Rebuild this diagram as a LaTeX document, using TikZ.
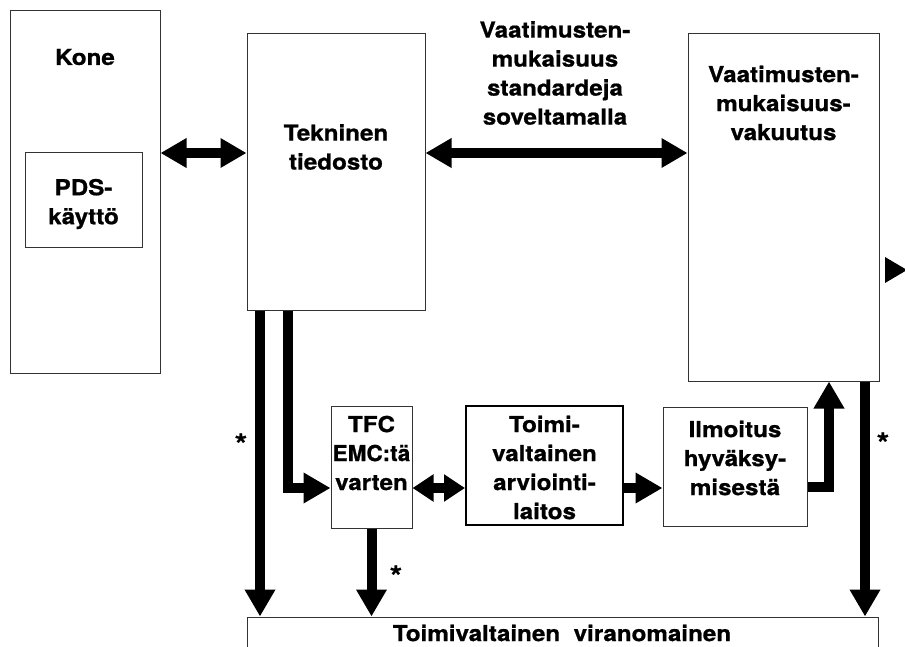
\documentclass[tikz,border=0pt]{standalone}
\usepackage{fontspec}
\setmainfont{TeX Gyre Heros}[FakeStretch=1.1, BoldFeatures={FakeBold=0.8}]
\usetikzlibrary{arrows.meta}
\tikzset{
  box/.style={draw=black!80, line width=1pt, fill=none, inner sep=0pt, anchor=center},
  txt/.style={inner sep=0pt, align=center, font=\fontsize{22}{29}\selectfont\bfseries},
  star/.style={inner sep=0pt, font=\fontsize{29}{29}\selectfont\bfseries},
  fat/.style={line width=10pt, -{Triangle[length=27pt,width=29pt]}},
  fatboth/.style={line width=10pt, {Triangle[length=26pt,width=28pt]}-{Triangle[length=26pt,width=28pt]}},
  smallboth/.style={line width=10pt, {Triangle[length=21pt,width=26pt]}-{Triangle[length=21pt,width=26pt]}},
}
\begin{document}
\begin{tikzpicture}[x=1pt,y=-1pt]
\useasboundingbox (0,0) rectangle (905,647);
\clip (0,0) rectangle (905,647);
% boxes
\node[box, minimum width=150pt, minimum height=362pt] (kone) at (85,192) {};
\node[box, minimum width=117pt, minimum height=95pt] (pds) at (83.5,200.5) {};
\node[box, minimum width=178pt, minimum height=276pt] (tek) at (336,172) {};
\node[box, minimum width=191pt, minimum height=347pt] (vaat) at (783.5,207.5) {};
\node[box, minimum width=81pt, minimum height=122pt] (tfc) at (371.5,467) {};
\node[box, line width=2pt, draw=black, minimum width=157pt, minimum height=119pt] (toimi) at (544.5,465.5) {};
\node[box, minimum width=144pt, minimum height=119pt] (ilm) at (735,466.5) {};
\node[box, minimum width=631pt, minimum height=60pt] (vir) at (562.5,647) {};
% texts
\node[txt] (tkone) at (85,57) {Kone};
\node[txt] (tpds) at (83.5,204) {PDS-\\käyttö};
\node[txt] (ttek) at (336,147) {Tekninen\\tiedosto};
\node[txt] (tlabel) at (555,73) {Vaatimusten-\\mukaisuus\\standardeja\\soveltamalla};
\node[txt] (tvaat) at (783.5,103) {Vaatimusten-\\mukaisuus-\\vakuutus};
\node[txt] (ttfc) at (371.5,453) {TFC\\\scalebox{0.93}[1]{EMC:tä}\\varten};
\node[txt] (ttoimi) at (544.5,467.5) {Toimi-\\valtainen\\arviointi-\\laitos};
\node[txt] (tilm) at (735,458) {Ilmoitus\\hyväksy-\\misestä};
\node[txt] (tvir) at (562,633) {Toimivaltainen\ \ viranomainen};
% asterisks
\node[star] (s1) at (241,444) {*};
\node[star] (s2) at (396,576) {*};
\node[star] (s3) at (883,443) {*};
% connectors
\draw[fatboth] (kone.east |- 0,153) -- (tek.west |- 0,153);
\draw[fatboth] (tek.east |- 0,153) -- (vaat.west |- 0,153);
\draw[fat] (tek.south -| 260,0) -- (vir.north -| 260,0);
\draw[fat] (tek.south -| 288,0) |- (tfc.west |- 0,488);
\draw[smallboth] (tfc.east |- 0,488) -- (toimi.west |- 0,488);
\draw[fat] (toimi.east |- 0,488) -- (ilm.west |- 0,488);
\draw[fat] (ilm.east |- 0,487) -| (vaat.south -| 829,0);
\draw[fat] (vaat.south -| 865,0) -- (vir.north -| 865,0);
\draw[fat] (tfc.south) -- (vir.north -| tfc.south);
% partial arrowhead at right edge
\fill (885,257) -- (907,270) -- (885,283) -- cycle;
\end{tikzpicture}
\end{document}
